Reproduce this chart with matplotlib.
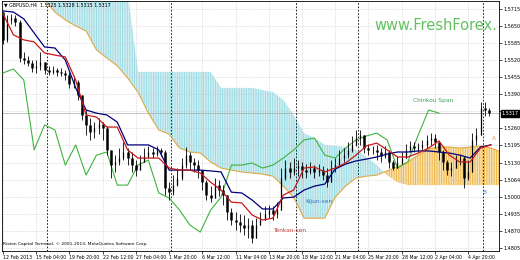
import numpy as np
import matplotlib.pyplot as plt
from matplotlib.transforms import blended_transform_factory

# GBPUSD H4 candles, one every 2 bars
closes = [1.5597, 1.5673, 1.5680, 1.5665, 1.5528, 1.5520, 1.5509, 1.5490, 1.5498, 1.5513,
          1.5482, 1.5475, 1.5482, 1.5475, 1.5471, 1.5463, 1.5429, 1.5437, 1.5387, 1.5311,
          1.5273, 1.5246, 1.5261, 1.5277, 1.5261, 1.5178, 1.5120, 1.5132, 1.5147, 1.5170,
          1.5147, 1.5120, 1.5101, 1.5132, 1.5155, 1.5170, 1.5162, 1.5178, 1.5170, 1.5033,
          1.5017, 1.5044, 1.5071, 1.5120, 1.5158, 1.5132, 1.5120, 1.5101, 1.5055, 1.5006,
          1.4995, 1.5044, 1.5025, 1.5006, 1.4941, 1.4911, 1.4903, 1.4892, 1.4880, 1.4892,
          1.4842, 1.4892, 1.4911, 1.4934, 1.4949, 1.4934, 1.4949, 1.5071, 1.5109, 1.5094,
          1.5109, 1.5117, 1.5101, 1.5094, 1.5109, 1.5094, 1.5101, 1.5082, 1.5055, 1.5109,
          1.5120, 1.5147, 1.5158, 1.5178, 1.5197, 1.5223, 1.5235, 1.5185, 1.5178, 1.5178,
          1.5170, 1.5155, 1.5170, 1.5132, 1.5109, 1.5128, 1.5147, 1.5178, 1.5193, 1.5185,
          1.5189, 1.5197, 1.5216, 1.5223, 1.5208, 1.5170, 1.5132, 1.5101, 1.5109, 1.5139,
          1.5147, 1.5071, 1.5094, 1.5216, 1.5235, 1.5338, 1.5330, 1.5317]
highs = [1.5703, 1.5692, 1.5696, 1.5692, 1.5673, 1.5551, 1.5536, 1.5520, 1.5520, 1.5551,
         1.5513, 1.5498, 1.5498, 1.5490, 1.5490, 1.5482, 1.5475, 1.5459, 1.5444, 1.5387,
         1.5330, 1.5299, 1.5284, 1.5299, 1.5284, 1.5269, 1.5178, 1.5158, 1.5185, 1.5208,
         1.5185, 1.5170, 1.5139, 1.5158, 1.5185, 1.5193, 1.5185, 1.5193, 1.5185, 1.5178,
         1.5055, 1.5082, 1.5109, 1.5147, 1.5189, 1.5170, 1.5147, 1.5139, 1.5101, 1.5063,
         1.5040, 1.5071, 1.5063, 1.5044, 1.5006, 1.4957, 1.4941, 1.4934, 1.4930, 1.4918,
         1.4911, 1.4918, 1.4941, 1.4964, 1.4968, 1.4964, 1.4979, 1.5109, 1.5139, 1.5132,
         1.5147, 1.5139, 1.5132, 1.5124, 1.5132, 1.5120, 1.5124, 1.5117, 1.5109, 1.5139,
         1.5147, 1.5178, 1.5185, 1.5208, 1.5231, 1.5254, 1.5254, 1.5231, 1.5200, 1.5193,
         1.5197, 1.5185, 1.5193, 1.5178, 1.5139, 1.5155, 1.5170, 1.5200, 1.5212, 1.5208,
         1.5204, 1.5216, 1.5235, 1.5242, 1.5238, 1.5208, 1.5178, 1.5139, 1.5132, 1.5158,
         1.5162, 1.5155, 1.5139, 1.5242, 1.5261, 1.5360, 1.5360, 1.5338]
lows = [1.5581, 1.5589, 1.5658, 1.5650, 1.5513, 1.5505, 1.5498, 1.5475, 1.5471, 1.5482,
        1.5467, 1.5463, 1.5467, 1.5459, 1.5459, 1.5444, 1.5414, 1.5414, 1.5368, 1.5292,
        1.5235, 1.5216, 1.5223, 1.5238, 1.5216, 1.5158, 1.5071, 1.5094, 1.5120, 1.5139,
        1.5120, 1.5094, 1.5078, 1.5101, 1.5132, 1.5147, 1.5147, 1.5155, 1.5155, 1.5006,
        1.4987, 1.5006, 1.5040, 1.5063, 1.5109, 1.5101, 1.5094, 1.5071, 1.5025, 1.4987,
        1.4979, 1.5006, 1.5002, 1.4968, 1.4911, 1.4892, 1.4873, 1.4865, 1.4854, 1.4842,
        1.4823, 1.4865, 1.4892, 1.4911, 1.4918, 1.4911, 1.4918, 1.4968, 1.5063, 1.5071,
        1.5082, 1.5078, 1.5071, 1.5071, 1.5086, 1.5071, 1.5078, 1.5063, 1.5036, 1.5071,
        1.5094, 1.5117, 1.5132, 1.5147, 1.5170, 1.5193, 1.5197, 1.5166, 1.5158, 1.5162,
        1.5139, 1.5132, 1.5147, 1.5109, 1.5101, 1.5109, 1.5124, 1.5155, 1.5170, 1.5170,
        1.5170, 1.5178, 1.5185, 1.5197, 1.5185, 1.5139, 1.5101, 1.5082, 1.5078, 1.5109,
        1.5120, 1.5033, 1.5063, 1.5094, 1.5197, 1.5235, 1.5307, 1.5307]

# Ichimoku lines, one value every 5 bars
tenkan = [1.5696, 1.5616, 1.5597, 1.5589, 1.5547, 1.5539, 1.5532, 1.5444, 1.5311, 1.5303,
          1.5265, 1.5265, 1.5178, 1.5147, 1.5147, 1.5147, 1.5109, 1.5101, 1.5101, 1.5090,
          1.5055, 1.5025, 1.4979, 1.4976, 1.4930, 1.4911, 1.4918, 1.5006, 1.5025, 1.5109,
          1.5113, 1.5094, 1.5109, 1.5128, 1.5158, 1.5193, 1.5204, 1.5178, 1.5151, 1.5151,
          1.5166, 1.5185, 1.5212, 1.5158, 1.5132, 1.5132, 1.5185, 1.5197]
kijun = [1.5707, 1.5703, 1.5677, 1.5623, 1.5570, 1.5566, 1.5520, 1.5414, 1.5330, 1.5318,
         1.5311, 1.5284, 1.5197, 1.5197, 1.5197, 1.5178, 1.5101, 1.5101, 1.5101, 1.5101,
         1.5098, 1.5094, 1.5017, 1.5014, 1.4987, 1.4953, 1.4953, 1.4995, 1.4998, 1.5025,
         1.5040, 1.5048, 1.5105, 1.5124, 1.5136, 1.5143, 1.5151, 1.5162, 1.5170, 1.5170,
         1.5174, 1.5174, 1.5170, 1.5166, 1.5158, 1.5147, 1.5189, 1.5197]
chinkou = [1.5471, 1.5486, 1.5444, 1.5178, 1.5273, 1.5254, 1.5120, 1.5197, 1.5082, 1.5158,
           1.5170, 1.5044, 1.5044, 1.5120, 1.5139, 1.5014, 1.4995, 1.4949, 1.4892, 1.4865,
           1.4949, 1.4998, 1.5120, 1.5120, 1.5128, 1.5109, 1.5120, 1.5147, 1.5178, 1.5216,
           1.5223, 1.5158, 1.5147, 1.5185, 1.5216, 1.5231, 1.5242, 1.5216, 1.5109, 1.5132,
           1.5235, 1.5330, 1.5318]
span_a = [1.5800, 1.5790, 1.5780, 1.5765, 1.5750, 1.5703, 1.5673, 1.5650, 1.5631, 1.5559,
          1.5528, 1.5498, 1.5452, 1.5398, 1.5318, 1.5254, 1.5238, 1.5185, 1.5170, 1.5166,
          1.5132, 1.5109, 1.5101, 1.5094, 1.5090, 1.5086, 1.5078, 1.5040, 1.4998, 1.4918,
          1.4918, 1.4918, 1.4998, 1.5040, 1.5071, 1.5078, 1.5082, 1.5098, 1.5113, 1.5132,
          1.5158, 1.5181, 1.5189, 1.5189, 1.5185, 1.5189, 1.5193, 1.5185, 1.5170]
span_b = [1.5780, 1.5780, 1.5780, 1.5780, 1.5780, 1.5780, 1.5780, 1.5780, 1.5780, 1.5780,
          1.5780, 1.5780, 1.5780, 1.5475, 1.5475, 1.5475, 1.5475, 1.5475, 1.5475, 1.5475,
          1.5475, 1.5414, 1.5414, 1.5414, 1.5414, 1.5406, 1.5398, 1.5368, 1.5311, 1.5242,
          1.5223, 1.5197, 1.5193, 1.5189, 1.5178, 1.5151, 1.5120, 1.5082, 1.5055, 1.5044,
          1.5044, 1.5044, 1.5044, 1.5044, 1.5044, 1.5044, 1.5044, 1.5044, 1.5044]

y_ticks = [1.5715, 1.5650, 1.5585, 1.5520, 1.5455, 1.5390, 1.5325, 1.5260,
           1.5195, 1.5130, 1.5064, 1.5000, 1.4935, 1.4870, 1.4805]
y_labels = ['1.5715', '1.5650', '1.5585', '1.5520', '1.5455', '1.5390', '', '1.5260',
            '1.5195', '1.5130', '1.5064', '1.5000', '1.4935', '1.4870', '1.4805']
x_ticks = [0, 16, 32, 48, 64, 80, 96, 112, 128, 144, 160, 176, 192, 208, 224]
x_labels = ['12 Feb 2013', '15 Feb 04:00', '19 Feb 20:00', '22 Feb 12:00', '27 Feb 04:00',
            '1 Mar 20:00', '6 Mar 12:00', '11 Mar 04:00', '13 Mar 20:00', '18 Mar 12:00',
            '21 Mar 04:00', '25 Mar 20:00', '28 Mar 12:00', '2 Apr 04:00', '4 Apr 20:00']
separators = [21, 81, 141, 171, 231]
last_price = 1.5317

plt.rcParams['font.family'] = 'DejaVu Sans'
plt.rcParams['hatch.linewidth'] = 0.7

fig = plt.figure(figsize=(5.2, 2.6), dpi=100)
ax = fig.add_axes([2 / 520, 9 / 260, 497 / 520, 250 / 260])
ax.set_xlim(-0.5, 238.9)
ax.set_ylim(1.4793, 1.5745)

# cloud
xs = np.arange(len(span_a)) * 5
a = np.array(span_a)
b = np.array(span_b)
ax.fill_between(xs, a, b, where=b >= a, interpolate=True, facecolor='#d2eff3',
                edgecolor='#9adbe4', hatch='|||||||', linewidth=0, zorder=1)
ax.fill_between(xs, a, b, where=a > b, interpolate=True, facecolor='#f9e4b4',
                edgecolor='#eeb446', hatch='|||||||', linewidth=0, zorder=1)
ax.plot(xs, a, color='#e3aa45', lw=0.8, zorder=2)

ax.axhline(last_price, color='#a8a8a8', lw=0.5, zorder=1.5)

for s in separators:
    ax.axvline(s, color='black', lw=0.6, linestyle=(0, (2, 2)), zorder=1.6)

# candles
cx = np.arange(len(closes)) * 2
c = np.array(closes)
o = np.array([highs[0]] + closes[:-1])
hi = np.maximum(np.array(highs), np.maximum(o, c))
lo = np.minimum(np.array(lows), np.minimum(o, c))
ax.vlines(cx, lo, hi, color='black', lw=0.6, zorder=4)
bear = c < o
ax.vlines(cx[bear], c[bear], o[bear], color='black', lw=1.8, zorder=4)
ax.vlines(cx[~bear], o[~bear], c[~bear], color='black', lw=0.9, zorder=4)

xl = np.arange(len(tenkan)) * 5
ax.plot(np.arange(len(chinkou)) * 5, chinkou, color='#3fb33f', lw=0.8, zorder=3)
ax.plot(xl, kijun, color='#00007a', lw=0.9, zorder=5)
ax.plot(xl, tenkan, color='#c81818', lw=0.9, zorder=5)

# axes
ax.yaxis.tick_right()
ax.set_yticks(y_ticks)
ax.set_yticklabels(y_labels)
ax.set_xticks(x_ticks)
ax.set_xticklabels(x_labels, ha='left')
ax.tick_params(axis='y', direction='out', length=2, width=0.5, labelsize=3.5, pad=1.5)
ax.tick_params(axis='x', direction='out', length=2, width=0.5, labelsize=3.35, pad=1)
ax.grid(color='#c8c8c8', linestyle=(0, (1, 1.5)), lw=0.5, zorder=0)
for sp in ax.spines.values():
    sp.set_linewidth(0.6)
    sp.set_color('black')

trans = blended_transform_factory(ax.transAxes, ax.transData)
ax.text(1.006, last_price, '1.5317', transform=trans, fontsize=3.5, color='white',
        va='center', ha='left', zorder=10, clip_on=False,
        bbox=dict(boxstyle='square,pad=0.2', fc='black', ec='black'))

ax.text(0.004, 0.984, '\u25bc GBPUSD,H4  1.5325 1.5328 1.5315 1.5317', transform=ax.transAxes,
        fontsize=3.4, va='center', ha='left', color='black')
ax.text(0.003, 0.028, 'Riston Capital Terminal, \u00a9 2001-2013, MetaQuotes Software Corp.',
        transform=ax.transAxes, fontsize=3.2, va='center', ha='left', color='black')
ax.text(0.996, 0.904, 'www.FreshForex.', transform=ax.transAxes, fontsize=10.5,
        va='center', ha='right', color='#62c262')

ax.text(137.8, 1.4871, 'Tenkan-sen', fontsize=4.2, color='#c04040', ha='center', va='center')
ax.text(152.2, 1.4981, 'Kijun-sen', fontsize=4.2, color='#3a70b8', ha='center', va='center')
ax.text(207.1, 1.5366, 'Chinkou Span', fontsize=4.2, color='#3aa060', ha='center', va='center')
ax.text(236.5, 1.5223, 'A', fontsize=4.2, color='#e09a60', ha='center', va='center')
ax.text(231.7, 1.5017, 'B', fontsize=4.2, color='#4a88c8', ha='center', va='center')

fig.savefig('out.png', dpi=100)
